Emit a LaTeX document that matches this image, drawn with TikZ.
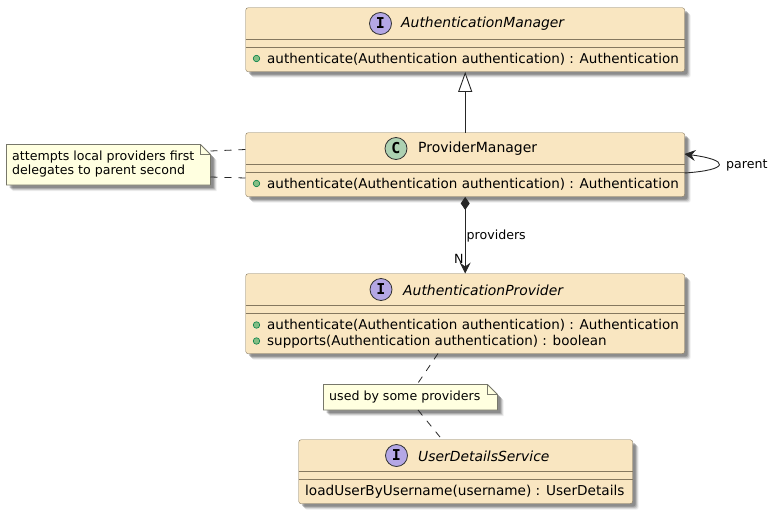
\documentclass[tikz,border=0pt]{standalone}
\usepackage{fontspec}
\setmainfont{DejaVu Sans}
\newfontfamily\spotfont{DejaVu Sans Mono}
\usetikzlibrary{arrows.meta,shadows,calc}
\definecolor{boxfill}{HTML}{F9E6C1}
\definecolor{boxline}{HTML}{85785F}
\definecolor{notefill}{HTML}{FFFFE0}
\definecolor{noteline}{HTML}{77776A}
\definecolor{ifacespot}{HTML}{B4A7E5}
\definecolor{classspot}{HTML}{ADD1B2}
\definecolor{dotfill}{HTML}{84BE84}
\definecolor{dotline}{HTML}{038048}
\tikzset{
  softshadow/.style={
    general shadow={fill=black,opacity=.07,shadow xshift=6pt,shadow yshift=-6pt},
    general shadow={fill=black,opacity=.12,shadow xshift=5pt,shadow yshift=-5pt},
    general shadow={fill=black,opacity=.16,shadow xshift=4pt,shadow yshift=-4pt},
    general shadow={fill=black,opacity=.20,shadow xshift=3pt,shadow yshift=-3pt}},
  classbox/.style={draw=boxline,fill=boxfill,rounded corners=2.5pt,softshadow,inner sep=0pt,anchor=north west},
  sep/.style={boxline,line width=.8pt},
  spot/.style={circle,draw=black!80,line width=.8pt,minimum size=22pt,inner sep=0pt,font=\spotfont\bfseries\fontsize{15}{15}\selectfont},
  title/.style={anchor=west,inner sep=0pt,font=\fontsize{13.9}{16}\selectfont\itshape},
  plain/.style={anchor=west,inner sep=0pt,font=\fontsize{13.5}{16}\selectfont},
  small/.style={anchor=west,inner sep=0pt,align=left,font=\fontsize{12.6}{14}\selectfont},
  dot/.style={circle,draw=dotline,fill=dotfill,line width=.6pt,minimum size=6.5pt,inner sep=0pt},
  link/.style={black!85,line width=.9pt},
  notelink/.style={black!85,line width=.8pt,dash pattern=on 7pt off 7pt},
  notepath/.style={draw=noteline,fill=notefill,line width=.9pt,softshadow},
}
% sticky note outline, corner folded at the top right
\newcommand{\stickynote}[4]{%
  \draw[notepath] (#1,#2) -- (#3-10,#2) -- (#3,#2+10) -- (#3,#4) -- (#1,#4) -- cycle;
  \draw[noteline,line width=.9pt] (#3-10,#2) -- (#3-10,#2+10) -- (#3,#2+10);
}
\begin{document}
\begin{tikzpicture}[x=1pt,y=-1pt]
\useasboundingbox (0,0) rectangle (779,514);

% class boxes
\node[classbox,minimum width=439pt,minimum height=64pt] (manager) at (245.5,7.5) {};
\node[classbox,minimum width=439pt,minimum height=64pt] (provmanager) at (245.5,132.5) {};
\node[classbox,minimum width=439pt,minimum height=80pt] (authprovider) at (245.5,273.5) {};
\node[classbox,minimum width=334pt,minimum height=64pt] (userservice) at (298.5,439.5) {};

% compartment rules
\foreach \n/\a/\b in {manager/32/39.5,provmanager/32/39.5,authprovider/32/39.5,userservice/32/39.5}{
  \draw[sep] ($(\n.north west)+(0,\a)$) -- ($(\n.north east)+(0,\a)$);
  \draw[sep] ($(\n.north west)+(0,\b)$) -- ($(\n.north east)+(0,\b)$);
}

% headers
\node[spot,fill=ifacespot] (managerspot) at (380.5,23.5) {I};
\node[title] (managername) at (401,24) {AuthenticationManager};
\node[spot,fill=classspot] (provmanagerspot) at (396,148.5) {C};
\node[plain,font=\fontsize{14}{16}\selectfont] (provmanagername) at (418,149) {ProviderManager};
\node[spot,fill=ifacespot] (authproviderspot) at (381,289.5) {I};
\node[title] (authprovidername) at (403,290) {AuthenticationProvider};
\node[spot,fill=ifacespot] (userservicespot) at (396.5,455.5) {I};
\node[title] (userservicename) at (418,456) {UserDetailsService};

% members
\foreach \y/\t in {59/{authenticate(Authentication authentication) : Authentication},
                   184/{authenticate(Authentication authentication) : Authentication},
                   325.5/{authenticate(Authentication authentication) : Authentication},
                   341.5/{supports(Authentication authentication) : boolean}}{
  \node[dot] at (256.5,\y-.5) {};
  \node[plain] at (267,\y) {\t};
}
\node[plain,font=\fontsize{13.65}{16}\selectfont] (loaduser) at (305,491.5) {loadUserByUsername(username) : UserDetails};

% notes
\stickynote{6.5}{144.5}{210.5}{185}
\node[small] (localnote) at (12,164.5) {attempts local providers first\\delegates to parent second};
\stickynote{323.5}{384.5}{497.5}{410}
\node[small] (usednote) at (329,397.5) {used by some providers};

% relations
\draw[link,-{Triangle[open,fill=white,length=20pt,width=14pt]}] (provmanager.north) -- (manager.south);
\draw[link,{Diamond[length=13pt,width=9pt]}-{Stealth[length=11pt,width=11pt,inset=4pt]}] (provmanager.south) -- (authprovider.north);
\node[small] (providerslabel) at (466.5,236) {providers};
\node[small] (nlabel) at (454,258.5) {N};
\coordinate (loopout) at (684.5,173);
\coordinate (loopin) at (684.5,154);
\draw[link,-{Stealth[length=11pt,width=11pt,inset=4pt]}] (loopout) .. controls (730,170) and (730,160) .. (loopin);
\node[small] (parentlabel) at (726,165) {parent};

% note links
\coordinate (notetop) at (210.5,151);
\coordinate (notebot) at (210.5,177);
\coordinate (pmtop) at (245.5,149.5);
\coordinate (pmbot) at (245.5,178);
\draw[notelink] (notetop) -- (pmtop);
\draw[notelink] (notebot) -- (pmbot);
\coordinate (aptail) at (438,353.5);
\coordinate (noteup) at (417,384.5);
\coordinate (notedown) at (418,410);
\coordinate (ushead) at (440,437);
\draw[notelink] (aptail) -- (noteup);
\draw[notelink] (notedown) -- (ushead);
\end{tikzpicture}
\end{document}
